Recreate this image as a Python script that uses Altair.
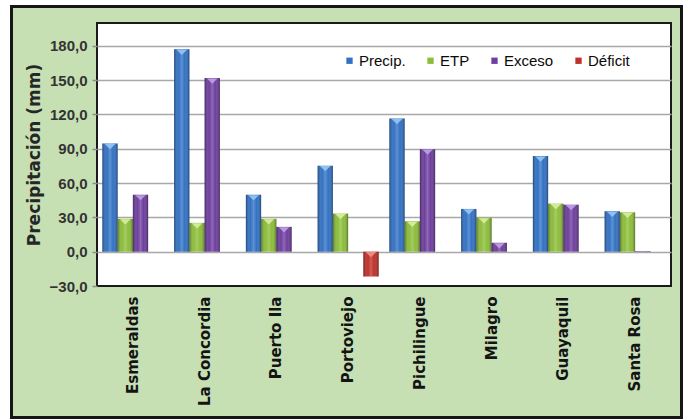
import altair as alt
import pandas as pd

# Monthly water balance by station (mm)
estaciones = ["Esmeraldas", "La Concordia", "Puerto Ila", "Portoviejo",
              "Pichilingue", "Milagro", "Guayaquil", "Santa Rosa"]
precip = [94.6, 177.0, 49.8, 75.2, 116.4, 37.4, 83.6, 35.3]
etp = [28.7, 25.2, 28.7, 33.3, 26.6, 29.6, 42.0, 34.4]
exceso = [49.8, 151.8, 21.7, 0.0, 89.7, 7.8, 41.1, 0.5]
deficit = [0.0, 0.0, 0.0, -21.7, 0.0, 0.0, 0.0, 0.0]

series = ["Precip.", "ETP", "Exceso", "Déficit"]
y_ticks = [-30, 0, 30, 60, 90, 120, 150, 180]

base_colors = ["#3272c4", "#8cbd3a", "#6e3e9e", "#c0302a"]
tint_colors = ["#8fc0f0", "#d2ec96", "#b99ae0", "#ec8a80"]

wide = pd.DataFrame({"Estación": estaciones, "Precip.": precip, "ETP": etp,
                     "Exceso": exceso, "Déficit": deficit})
data = wide.melt(id_vars="Estación", var_name="Serie", value_name="mm")

W, H = 574, 263
SANS = "Liberation Sans, Arial, sans-serif"

x_enc = alt.X(
    "Estación:N", sort=estaciones,
    scale=alt.Scale(paddingInner=0.15, paddingOuter=0.075),
    axis=alt.Axis(title=None, labelAngle=270, labelAlign="right", labelBaseline="middle",
                  labelPadding=10, ticks=False, domain=False, grid=False,
                  labelFont="DejaVu Sans", labelFontSize=15, labelFontWeight="bold",
                  labelColor="#141414"),
)
xo_enc = alt.XOffset("Serie:N", sort=series,
                     scale=alt.Scale(domain=series, paddingInner=0, paddingOuter=0))
y_enc = alt.Y(
    "mm:Q",
    scale=alt.Scale(domain=[-30, 200], nice=False, zero=False),
    axis=alt.Axis(
        title="Precipitación  (mm)", values=y_ticks,
        labelExpr="replace(format(datum.value, '.1f'), '.', ',')",
        labelFont=SANS, labelFontSize=15, labelFontWeight="bold", labelColor="#333333",
        labelPadding=5, tickSize=5, tickColor="#8c8c8c", tickWidth=1.5, domain=False,
        grid=True, gridWidth=1.5,
        gridColor={"condition": {"test": "datum.value === -30", "value": "transparent"},
                   "value": "#a8a8a8"},
        titleFont="DejaVu Sans", titleFontSize=17, titleFontWeight="bold",
        titleColor="#262626", titleX=-63, titleY=H / 2, titleAngle=270,
        titleAlign="center", titleBaseline="middle",
    ),
)

base = alt.Chart(data)

bars = base.mark_bar().encode(
    x=x_enc, xOffset=xo_enc, y=y_enc, y2=alt.datum(0),
    color=alt.Color("Serie:N", sort=series,
                    scale=alt.Scale(domain=series, range=base_colors),
                    legend=alt.Legend(orient="none", legendX=245, legendY=30,
                                      direction="horizontal", title=None, padding=0,
                                      symbolType="square", symbolSize=40,
                                      symbolStrokeWidth=0, labelOffset=2,
                                      columnPadding=17, labelFont=SANS,
                                      labelFontSize=15, labelColor="#0a0a0a")),
)

# cylindrical shading laid over each bar
shine = base.mark_bar(
    color=alt.Gradient(
        gradient="linear", x1=0, x2=1, y1=0, y2=0,
        stops=[
            alt.GradientStop(color="rgba(0,0,0,0.38)", offset=0),
            alt.GradientStop(color="rgba(255,255,255,0)", offset=0.3),
            alt.GradientStop(color="rgba(255,255,255,0.22)", offset=0.5),
            alt.GradientStop(color="rgba(255,255,255,0)", offset=0.7),
            alt.GradientStop(color="rgba(0,0,0,0.38)", offset=1),
        ],
    )
).encode(x=x_enc, xOffset=xo_enc, y=y_enc, y2=alt.datum(0))

# light bevel triangle at the top face of each bar
bevel = base.transform_filter("abs(datum.mm) > 2").transform_calculate(
    mm="max(datum.mm, 0)"
).mark_point(shape="M-1,-0.5L1,-0.5L0,0.5Z", filled=True, size=110, opacity=1,
             yOffset=3).encode(
    x=x_enc, xOffset=xo_enc, y=y_enc,
    color=alt.Color("Serie:N", scale=alt.Scale(domain=series, range=tint_colors),
                    legend=None),
)

# outer frame of the chart area
frame_data = alt.Data(values=[{"k": 0}])
margin = alt.Chart(frame_data).mark_rect(filled=False, stroke="white", strokeWidth=22).encode(
    x=alt.value(-98), x2=alt.value(W + 23), y=alt.value(-29), y2=alt.value(H + 143)
)
frame = alt.Chart(frame_data).mark_rect(filled=False, stroke="#161616", strokeWidth=3).encode(
    x=alt.value(-85.5), x2=alt.value(W + 10.5), y=alt.value(-16.5), y2=alt.value(H + 131.5)
)

chart = alt.layer(bars, shine, bevel, margin, frame).resolve_scale(
    color="independent"
).properties(
    width=W, height=H,
    autosize=alt.AutoSizeParams(type="none"),
    padding={"left": 97, "top": 23, "right": 19, "bottom": 134},
).configure(
    background="#c6e0b4",
).configure_view(
    fill="white", stroke="#1a1a1a", strokeWidth=2,
)

chart.save("out.html", embed_options={"renderer": "svg", "actions": False})
